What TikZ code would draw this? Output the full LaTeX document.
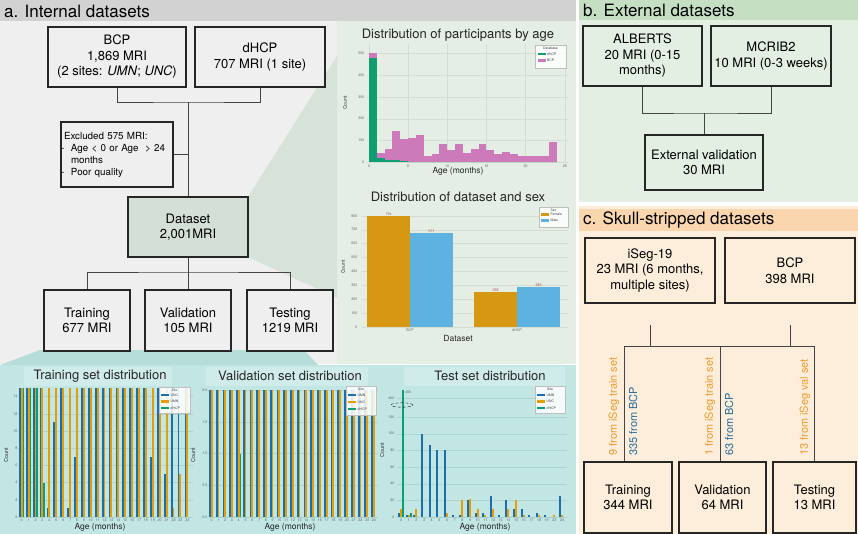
\documentclass[tikz,border=0pt]{standalone}
\usepackage{fontspec}
\setmainfont{TeX Gyre Heros}
\definecolor{bgA}{HTML}{EFEFEF}
\definecolor{hdA}{HTML}{D2D2D2}
\definecolor{chartG}{HTML}{E4EEE4}
\definecolor{projG}{HTML}{D7E2D9}
\definecolor{dsFill}{HTML}{D4DFD6}
\definecolor{tealA}{HTML}{C1E6E4}
\definecolor{tealB}{HTML}{B6DDD9}
\definecolor{tealT}{HTML}{D0ECEA}
\definecolor{bgB}{HTML}{E3EFE2}
\definecolor{hdB}{HTML}{C4DFC2}
\definecolor{bgC}{HTML}{FDEEDC}
\definecolor{hdC}{HTML}{F9D6AE}
\definecolor{cBlue}{HTML}{1B6FB0}
\definecolor{cOrange}{HTML}{E39E0A}
\definecolor{cGreen}{HTML}{0E9E72}
\definecolor{cPink}{HTML}{CC7AB9}
\definecolor{cFem}{HTML}{D69713}
\definecolor{cMale}{HTML}{5EB2E0}
\definecolor{txtO}{HTML}{F39A2C}
\definecolor{txtB}{HTML}{2B6E9C}
\definecolor{lineC}{HTML}{444444}
\definecolor{gridAc}{HTML}{D3DDD3}
\definecolor{gridTc}{HTML}{AED4D1}
\definecolor{valRed}{HTML}{C0504D}
\newcommand{\legentry}[5]{%
  \fill[#4] (#2,#3-1.4) rectangle (#2+8,#3+1.4);
  \node[lgt, anchor=west] (#1) at (#2+9.5,#3) {#5};}
\newcommand{\dashitem}{\makebox[7pt][l]{\kern-3pt-}}
\begin{document}
\begin{tikzpicture}[x=1pt,y=-1pt]
\tikzset{
 bx/.style={draw=black!85, line width=1.3pt, align=center, inner sep=2pt, font=\fontsize{13}{15.5}\selectfont},
 conn/.style={draw=lineC, line width=0.9pt},
 hdr/.style={anchor=west, inner sep=0pt, font=\fontsize{17}{20}\selectfont},
 ctitle/.style={inner sep=0pt, font=\fontsize{13}{15}\selectfont, text=black!85},
 tklab/.style={inner sep=0.4pt, font=\fontsize{3.6}{4}\selectfont, text=black!60},
 axl/.style={inner sep=0pt, font=\fontsize{8.5}{9}\selectfont, text=black!85},
 cntl/.style={inner sep=0pt, rotate=90, font=\fontsize{5.5}{6}\selectfont, text=black!80},
 lgt/.style={inner sep=0pt, font=\fontsize{3.4}{4}\selectfont, text=black!75},
 lgbox/.style={fill=white, fill opacity=0.85, draw=black!25, line width=0.3pt},
 gridA/.style={draw=gridAc, line width=0.3pt},
 gridT/.style={draw=gridTc, line width=0.3pt},
 rlab/.style={rotate=90, anchor=west, inner sep=0pt, font=\fontsize{11}{12}\selectfont},
}
\useasboundingbox (0,0) rectangle (858,534);
\fill[white] (0,0) rectangle (858,534);
% ---------------- panel a backgrounds
\fill[bgA] (0,0) rectangle (576,364);
\fill[hdA] (0,0) rectangle (576,21);
\fill[chartG] (337,21) rectangle (576,364);
\fill[projG] (248,197) -- (337,56) -- (337,298) -- (248,257) -- cycle;
\fill[tealA] (0,365) rectangle (576,534);
\fill[tealB] (0,365) -- (40,350) -- (304,350) -- (318,365) -- cycle;
\node[hdr] (ha) at (4,11.5) {a. Internal datasets};
% ---------------- panel a boxes
\node[bx, fill=bgA, minimum width=138pt, minimum height=60pt] (bcp) at (117,57)
  {BCP\\1,869 MRI\\(2 sites: \textit{UMN}; \textit{UNC})};
\node[bx, fill=bgA, minimum width=130pt, minimum height=60pt] (dhcp) at (260,57)
  {dHCP\\707 MRI (1 site)};
\coordinate (ja) at (188,102);
\draw[conn] (bcp.south) |- (ja) -| (dhcp.south);
\node[bx, fill=bgA, font=\fontsize{9.8}{12}\selectfont, align=left, text width=106pt,
  minimum height=65pt, inner xsep=3pt] (excl) at (117,154.5)
  {Excluded 575 MRI:\\\dashitem\mbox{Age < 0 or Age~ > 24}\\\makebox[7pt]{}months\\\dashitem Poor quality};
\node[bx, fill=dsFill, minimum width=120pt, minimum height=60pt] (dataset) at (188,227)
  {Dataset\\2,001MRI};
\draw[conn] (ja) -- (dataset.north);
\draw[conn] (excl.east) -- (excl.east -| ja);
\node[bx, fill=bgA, minimum width=86pt, minimum height=61pt] (train) at (87,320.5) {Training\\677 MRI};
\node[bx, fill=bgA, minimum width=86pt, minimum height=61pt] (val) at (188,320.5) {Validation\\105 MRI};
\node[bx, fill=bgA, minimum width=86pt, minimum height=61pt] (test) at (290,320.5) {Testing\\1219 MRI};
\coordinate (jb) at (188,272);
\draw[conn] (dataset.south) -- (jb);
\draw[conn] (train.north) |- (jb) -| (test.north);
\draw[conn] (jb) -- (val.north);
% ---------------- chart 1: participants by age
\foreach \kk in {0,...,5} \draw[gridA] (367,{162-21.67*\kk}) -- (568,{162-21.67*\kk});
\foreach \mm in {0,5,...,25} \draw[gridA] ({369+7.83*\mm},44) -- ({369+7.83*\mm},162);
\foreach \tv/\gv [count=\ii from 0] in {505/482,42/20,62/10,143/10,108/5,112/0,126/0,28/0,38/0,82/0,57/0,82/0,42/0,62/0,82/0,57/0,35/0,46/0,35/0,26/0,26/0,26/0,26/0,92/0} {
  \pgfmathsetmacro\xa{369+7.83*\ii}
  \fill[cPink] (\xa,162) rectangle ({\xa+7.83},{162-0.2167*\tv});
  \fill[cGreen] (\xa,162) rectangle ({\xa+7.83},{162-0.2167*\gv});
}
\foreach \kk in {0,...,5} {
  \pgfmathtruncatemacro\lab{100*\kk}
  \node[tklab, anchor=east] (ya\kk) at (365,{162-21.67*\kk}) {\lab};}
\foreach \mm in {0,5,10,15,20,25} \node[tklab, anchor=north] (xa\mm) at ({369+7.83*\mm},164) {\mm};
\node[ctitle] (t1) at (458,35) {Distribution of participants by age};
\node[cntl, font=\fontsize{5}{5}\selectfont] (c1) at (345,103) {Count};
\node[axl] (a1) at (458,171) {Age (months)};
\draw[lgbox] (535,45) rectangle (566,68);
\node[lgt] (lg1) at (550.5,48.5) {Database};
\legentry{lg1a}{537.5}{54}{cGreen}{dHCP}
\legentry{lg1b}{537.5}{60.5}{cPink}{BCP}
% ---------------- chart 2: dataset and sex
\foreach \kk in {0,...,8} \draw[gridA] (362,{327-13.9*\kk}) -- (568,{327-13.9*\kk});
\fill[cFem] (367,327) rectangle (410,216);
\fill[cMale] (410,327) rectangle (453,233);
\fill[cFem] (474,327) rectangle (517,292);
\fill[cMale] (517,327) rectangle (560,287);
\node[tklab, anchor=south, text=valRed] (v1) at (388.5,216) {794};
\node[tklab, anchor=south, text=valRed] (v2) at (431.5,233) {671};
\node[tklab, anchor=south, text=valRed] (v3) at (495.5,292) {258};
\node[tklab, anchor=south, text=valRed] (v4) at (538.5,287) {289};
\foreach \kk in {0,...,8} {
  \pgfmathtruncatemacro\lab{100*\kk}
  \node[tklab, anchor=east] (yb\kk) at (358,{327-13.9*\kk}) {\lab};}
\node[tklab, anchor=north] (xb1) at (410,328.5) {BCP};
\node[tklab, anchor=north] (xb2) at (517,328.5) {dHCP};
\node[ctitle] (t2) at (458,197) {Distribution of dataset and sex};
\node[cntl, font=\fontsize{5}{5}\selectfont] (c2) at (343,267) {Count};
\node[axl] (a2) at (458,338) {Dataset};
\draw[lgbox] (539,207) rectangle (568,227);
\node[lgt] (lg2) at (553.5,210) {Sex};
\legentry{lg2a}{541}{214.5}{cFem}{Female}
\legentry{lg2b}{541}{220.5}{cMale}{Male}
% ---------------- bottom chart titles
\fill[tealT] (24,367) rectangle (172,386);
\fill[tealT] (206,367) rectangle (368,386);
\fill[tealT] (404,367) rectangle (565,386);
\node[ctitle] (t3) at (100,376) {Training set distribution};
\node[ctitle] (t4) at (290,376) {Validation set distribution};
\node[ctitle] (t5) at (490,376) {Test set distribution};
% ---------------- chart 3: training
\foreach \kk in {0,...,7} \draw[gridT] (18,{517-17.2*\kk}) -- (193,{517-17.2*\kk});
\foreach \vb/\vo/\vg [count=\ii from 0] in {15/15/15,15/15/15,15/15/15,15/15/4,1/15/0,11/15/0,15/15/0,1/15/0,7/15/0,15/15/0,15/15/0,15/15/0,15/15/0,15/15/0,15/15/0,15/15/0,15/15/0,15/15/0,15/15/0,7/15/0,15/15/0,5/15/0,15/1/0,15/5/0,15/15/0} {
  \pgfmathsetmacro\cx{21.7+6.9*\ii}
  \fill[cBlue] ({\cx-2.76},517) rectangle ({\cx-0.92},{517-8.6*\vb});
  \fill[cOrange] ({\cx-0.92},517) rectangle ({\cx+0.92},{517-8.6*\vo});
  \fill[cGreen] ({\cx+0.92},517) rectangle ({\cx+2.76},{517-8.6*\vg});
  \node[tklab, anchor=north] (xc\ii) at (\cx,518.5) {\ii};
}
\foreach \kk in {0,...,7} {
  \pgfmathtruncatemacro\lab{2*\kk}
  \node[tklab, anchor=east] (yc\kk) at (18,{517-17.2*\kk}) {\lab};}
\node[cntl] (c3) at (6,455) {Count};
\node[axl] (a3) at (100,527.5) {Age (months)};
\draw[lgbox] (159,387) rectangle (190,413);
\node[lgt] (lg3) at (174.5,390) {Site};
\legentry{lg3a}{161}{395}{cBlue}{UNC}
\legentry{lg3b}{161}{401.5}{cOrange}{UMN}
\legentry{lg3c}{161}{408}{cGreen}{dHCP}
% ---------------- chart 4: validation
\foreach \kk in {0,...,4} \draw[gridT] (208,{517-31.75*\kk}) -- (378,{517-31.75*\kk});
\foreach \vb/\vo/\vg [count=\ii from 0] in {2/2/0,2/2/0,2/2/0,2/2/0,2/2/1,2/2/0,2/2/0,2/2/0,2/2/0,2/2/0,2/2/0,2/2/0,2/2/0,2/2/0,2/2/0,2/2/0,2/2/0,2/2/0,2/2/0,2/2/0,2/2/0,2/2/0,2/2/0,2/2/0,2/2/0} {
  \pgfmathsetmacro\cx{211.7+6.76*\ii}
  \fill[cBlue] ({\cx-2.7},517) rectangle ({\cx-0.9},{517-63.5*\vb});
  \fill[cOrange] ({\cx-0.9},517) rectangle ({\cx+0.9},{517-63.5*\vo});
  \fill[cGreen] ({\cx+0.9},517) rectangle ({\cx+2.7},{517-63.5*\vg});
  \node[tklab, anchor=north] (xd\ii) at (\cx,518.5) {\ii};
}
\foreach \lab [count=\kk from 0] in {0.0,0.5,1.0,1.5,2.0}
  \node[tklab, anchor=east] (yd\kk) at (208,{517-31.75*\kk}) {\lab};
\node[cntl] (c4) at (193,455) {Count};
\node[axl] (a4) at (290,527.5) {Age (months)};
\draw[lgbox] (346,386) rectangle (376,415);
\node[lgt] (lg4) at (361,389.5) {Site};
\legentry{lg4a}{348}{395}{cBlue}{UMN}
\legentry{lg4b}{348}{402}{cOrange}{UNC}
\legentry{lg4c}{348}{409}{cGreen}{dHCP}
% ---------------- chart 5: test
\foreach \vv in {0,20,...,120} \draw[gridT] (397,{517-0.833*\vv}) -- (567,{517-0.833*\vv});
\draw[gridT] (397,398) -- (567,398);
\foreach \vb/\vo/\vg/\lab [count=\kk from 0] in {5/10/999/0,2/2/5/1,2/10/0/2,100/0/0/3,86/0/0/4,80/0/0/5,80/5/0/6,2/0/0/7,2/20/0/8,20/22/0/9,5/10/0/10,5/2/0/11,25/10/0/12,2/0/0/13,20/10/0/14,10/20/0/15,10/2/0/16,2/0/0/17,5/2/0/18,2/0/0/19,0/2/0/23,25/2/0/24} {
  \pgfmathsetmacro\cx{401+7.67*\kk}
  \pgfmathsetmacro\hg{min(0.833*\vg,127)}
  \fill[cBlue] ({\cx-3.07},517) rectangle ({\cx-1.02},{517-0.833*\vb});
  \fill[cOrange] ({\cx-1.02},517) rectangle ({\cx+1.02},{517-0.833*\vo});
  \fill[cGreen] ({\cx+1.02},517) rectangle ({\cx+3.07},{517-\hg});
  \node[tklab, anchor=north] (xe\kk) at (\cx,518.5) {\lab};
}
\foreach \vv [count=\kk from 0] in {0,20,...,120}
  \node[tklab, anchor=east] (ye\kk) at (395,{517-0.833*\vv}) {\vv};
\node[tklab, anchor=east] (ye7) at (395,398) {400};
\draw[densely dashed, line width=0.35pt] (402,405) ellipse (11pt and 2.2pt);
\node[tklab, anchor=west] (top5) at (404.5,392) {400};
\node[cntl] (c5) at (382,450) {Count};
\node[axl] (a5) at (485,527.5) {Age (months)};
\draw[lgbox] (535,386) rectangle (565,413);
\node[lgt] (lg5) at (550,389.5) {Site};
\legentry{lg5a}{537}{395}{cBlue}{UMN}
\legentry{lg5b}{537}{401.5}{cOrange}{UNC}
\legentry{lg5c}{537}{408}{cGreen}{dHCP}
% ---------------- panel b
\fill[bgB] (579,0) rectangle (858,202);
\fill[hdB] (579,0) rectangle (858,20);
\node[hdr] (hb) at (583,10.5) {b. External datasets};
\node[bx, fill=bgB, minimum width=119pt, minimum height=60pt] (alb) at (642.5,56)
  {ALBERTS\\20 MRI (0-15\\months)};
\node[bx, fill=bgB, minimum width=120pt, minimum height=60pt] (mcr) at (771,56)
  {MCRIB2\\10 MRI (0-3 weeks)};
\node[bx, fill=bgB, minimum width=118pt, minimum height=55pt] (ext) at (704,162.5)
  {External validation\\30 MRI};
\coordinate (jc) at (704,113);
\draw[conn] (alb.south) |- (jc) -| (mcr.south);
\draw[conn] (jc) -- (ext.north);
% ---------------- panel c
\fill[bgC] (579,206) rectangle (858,534);
\fill[hdC] (579,209) rectangle (858,231);
\node[hdr] (hc) at (583,220) {c. Skull-stripped datasets};
\node[bx, fill=bgC, minimum width=130pt, minimum height=65pt] (iseg) at (650,270.5)
  {iSeg-19\\23 MRI (6 months,\\multiple sites)};
\node[bx, fill=bgC, minimum width=130pt, minimum height=65pt] (bcp2) at (790,270.5)
  {BCP\\398 MRI};
\node[bx, fill=bgC, minimum width=88pt, minimum height=71pt] (tr2) at (628,497.5) {Training\\344 MRI};
\node[bx, fill=bgC, minimum width=87pt, minimum height=71pt] (va2) at (722.5,497.5) {Validation\\64 MRI};
\node[bx, fill=bgC, minimum width=83pt, minimum height=71pt] (te2) at (814.5,497.5) {Testing\\13 MRI};
\coordinate (ci1) at (650,325);
\coordinate (ci2) at (790,325);
\coordinate (h1) at (624,346);
\coordinate (h2) at (720,346);
\coordinate (h3) at (814,346);
\draw[conn] (ci1) -- (ci1 |- h1);
\draw[conn] (ci2) -- (ci2 |- h1);
\draw[conn] (h1) -- (h3);
\draw[conn] (h1) -- (h1 |- tr2.north);
\draw[conn] (h2) -- (h2 |- va2.north);
\draw[conn] (h3) -- (h3 |- te2.north);
\node[rlab, text=txtO] (l1) at (614,456) {9 from iSeg train set};
\node[rlab, text=txtB] (l2) at (633,456) {335 from BCP};
\node[rlab, text=txtO] (l3) at (710,456) {1 from iSeg train set};
\node[rlab, text=txtB] (l4) at (729,456) {63 from BCP};
\node[rlab, text=txtO] (l5) at (805,456) {13 from iSeg val set};
\end{tikzpicture}
\end{document}
